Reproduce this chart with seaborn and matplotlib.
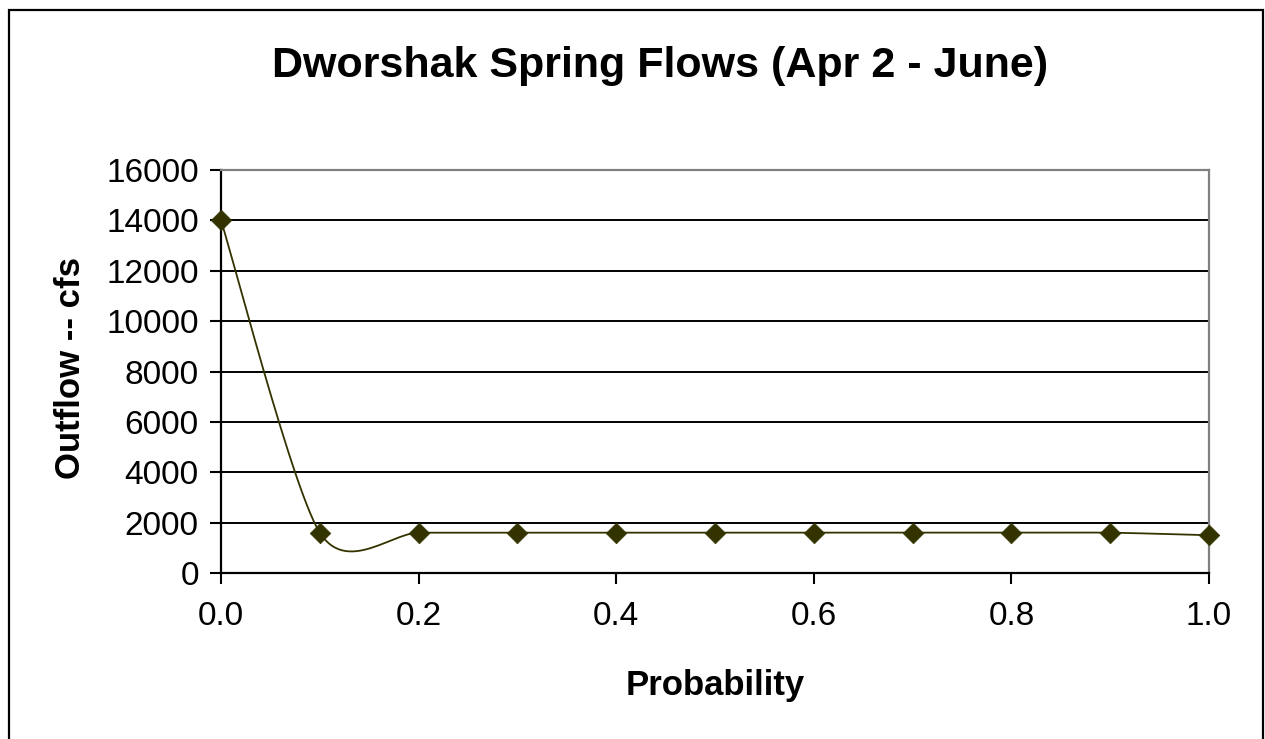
"""Dworshak spring flows - probability curve"""
import numpy as np
import pandas as pd
import matplotlib
matplotlib.use("Agg")
import matplotlib.pyplot as plt
import matplotlib.patches as patches
import seaborn as sns

# data
probability = [0.0, 0.1, 0.2, 0.3, 0.4, 0.5, 0.6, 0.7, 0.8, 0.9, 1.0]
outflow_cfs = [14000, 1600, 1600, 1600, 1600, 1600, 1600, 1600, 1600, 1600, 1500]
y_ticks = [0, 2000, 4000, 6000, 8000, 10000, 12000, 14000, 16000]
x_ticks = [0.0, 0.2, 0.4, 0.6, 0.8, 1.0]

LINE_COLOR = "#333300"


def smooth_line(xs, ys, k=0.135, n=30):
    """Excel-like smoothed line: cubic Bezier through each point pair"""
    pts = np.column_stack([xs, ys]).astype(float)
    m = len(pts)
    out = []
    t = np.linspace(0, 1, n)[:, None]
    for i in range(m - 1):
        p0 = pts[max(i - 1, 0)]
        p1 = pts[i]
        p2 = pts[i + 1]
        p3 = pts[min(i + 2, m - 1)]
        c1 = p1 + (p2 - p0) * k
        c2 = p2 - (p3 - p1) * k
        seg = ((1 - t) ** 3) * p1 + 3 * ((1 - t) ** 2) * t * c1 \
            + 3 * (1 - t) * t ** 2 * c2 + t ** 3 * p2
        out.append(seg if i == 0 else seg[1:])
    return np.vstack(out)


sns.set_theme(style="white")
plt.rcParams["font.family"] = ["Liberation Sans", "DejaVu Sans"]
plt.rcParams["text.color"] = "black"
plt.rcParams["axes.labelcolor"] = "black"

fig = plt.figure(figsize=(12.65, 7.39), dpi=100)
ax = fig.add_axes([221 / 1265, 1 - 573 / 739, 988 / 1265, 403 / 739])

df = pd.DataFrame({"Probability": probability, "Outflow": outflow_cfs})
curve = smooth_line(probability, outflow_cfs)
curve_df = pd.DataFrame({"x": curve[:, 0], "y": curve[:, 1]})

sns.lineplot(data=curve_df, x="x", y="y", sort=False, color=LINE_COLOR,
             linewidth=1.3, ax=ax, zorder=3)
sns.scatterplot(data=df, x="Probability", y="Outflow", marker="D", s=110,
                color=LINE_COLOR, edgecolor=LINE_COLOR, linewidth=0.5,
                ax=ax, zorder=4, clip_on=False)

ax.set_xlim(0, 1.0)
ax.set_ylim(0, 16000)
ax.set_xticks(x_ticks)
ax.set_xticklabels([f"{v:.1f}" for v in x_ticks])
ax.set_yticks(y_ticks)
ax.set_yticklabels([str(v) for v in y_ticks])

ax.grid(axis="y", color="black", linewidth=1.4)
ax.grid(axis="x", visible=False)
ax.set_axisbelow(True)

ax.tick_params(axis="both", labelsize=24, colors="black", length=8, width=1.5,
               direction="out")
ax.tick_params(axis="x", pad=12, bottom=True)
ax.tick_params(axis="y", pad=8, left=True)

for side in ("left", "bottom"):
    ax.spines[side].set_color("black")
    ax.spines[side].set_linewidth(1.6)
for side in ("top", "right"):
    ax.spines[side].set_color("#808080")
    ax.spines[side].set_linewidth(1.6)

ax.set_xlabel("Probability", fontsize=25, fontweight="bold", va="baseline")
ax.xaxis.set_label_coords(0.5, (573 - 695) / 403)
ax.set_ylabel("Outflow -- cfs", fontsize=25, fontweight="bold", va="center")
ax.yaxis.set_label_coords((71 - 221) / 988, 0.509)

fig.text(660 / 1265, 1 - 77 / 739, "Dworshak Spring Flows (Apr 2 - June)",
         fontsize=31, fontweight="bold", ha="center", va="baseline")

# chart area frame (bottom edge falls outside the picture)
fig.patches.append(patches.Rectangle(
    (9 / 1265, -0.02), 1254 / 1265, 1 - 10 / 739 + 0.02,
    transform=fig.transFigure, fill=False, edgecolor="black", linewidth=1.6))

fig.savefig("out.png", dpi=100)
